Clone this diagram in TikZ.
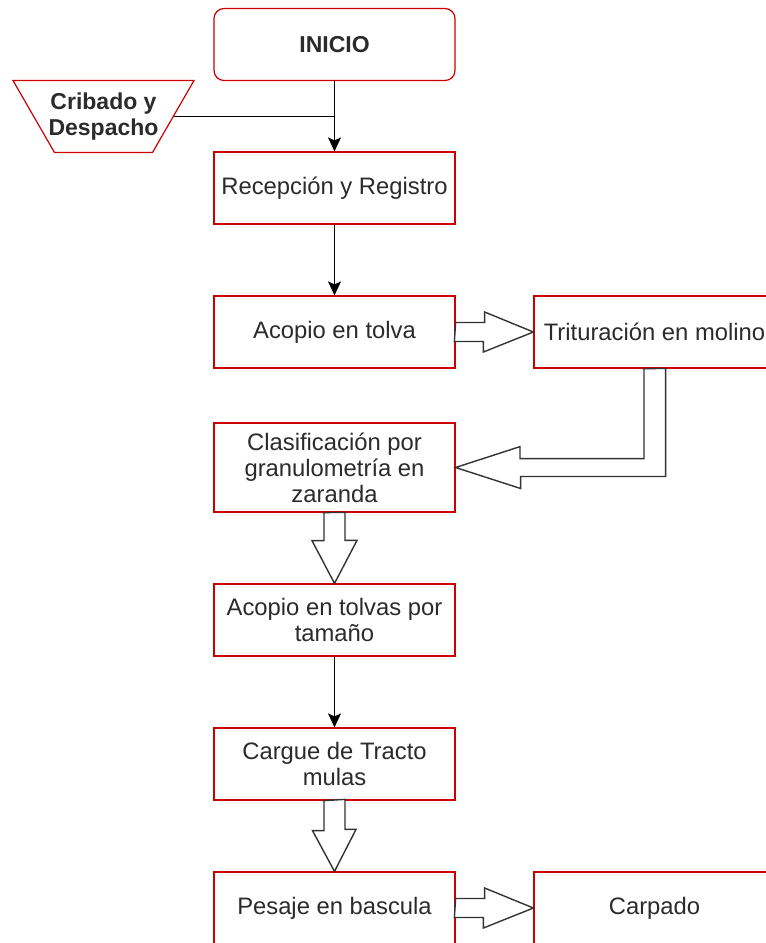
\documentclass[tikz,border=0pt]{standalone}
\usepackage{fontspec}
\setmainfont{Liberation Sans}
\usetikzlibrary{arrows.meta,calc}
\definecolor{boxred}{HTML}{CC0000}
\definecolor{ink}{HTML}{2B2B2B}
\definecolor{arrowgray}{HTML}{333333}
\begin{document}
\begin{tikzpicture}[x=1pt,y=-1pt,
  every node/.style={text=ink,font=\fontsize{23.8}{26}\selectfont,align=center,inner sep=0pt},
  procbox/.style={draw=boxred,line width=1.2pt,fill=white,minimum width=241,minimum height=72},
  startbox/.style={procbox,rounded corners=10pt,font=\bfseries\fontsize{23}{26}\selectfont},
  flow/.style={draw=black,line width=1.3pt,-{Stealth[length=14pt,width=13pt,inset=3pt]}},
  hollow/.style={draw=arrowgray,line width=1.4pt,fill=white,line join=miter}]
\useasboundingbox (0,0) rectangle (766,943);

% process boxes
\node[startbox] (inicio) at (334.5,44.5) {INICIO};
\node[font=\bfseries\fontsize{23}{26}\selectfont] (crib) at (103.5,116.5) {Cribado y\\Despacho};
\draw[boxred,line width=1.2pt] (crib.center) ++(-90.5,-36) -- ++(181,0) -- ++(-41.5,72)
  -- ++(-98,0) -- cycle;
\coordinate (cribR) at ($(crib.center)+(70,0)$);
\node[procbox] (recep) at (334.5,188) {Recepción y Registro};
\node[procbox] (acopio) at (334.5,332) {Acopio en tolva};
\node[procbox] (trit) at (654.5,332) {Trituración en molino};
\node[procbox,minimum height=89] (clasif) at (334.5,467.5) {Clasificación por\\granulometría en\\zaranda};
\node[procbox] (tolvas) at (334.5,620) {Acopio en tolvas por\\tamaño};
\node[procbox] (cargue) at (334.5,764) {Cargue de Tracto\\mulas};
\node[procbox] (pesaje) at (334.5,908) {Pesaje en bascula};
\node[procbox] (carpado) at (654.5,908) {Carpado};

% plain connectors
\draw[flow] (inicio) -- (recep);
\draw[line width=1.3pt] (cribR) -- (cribR -| inicio.south);
\draw[flow] (recep) -- (acopio);
\draw[flow] (tolvas) -- (cargue);

% block arrows
\draw[hollow] (acopio.east) ++(0,-9.5) -- ++(29,0) -- ++(0,-10.5) -- (trit.west)
  -- ++(-50,20) -- ++(0,-10.5) -- ++(-29,0) -- cycle;
\draw[hollow] (pesaje.east) ++(0,-9.5) -- ++(29,0) -- ++(0,-10.5) -- (carpado.west)
  -- ++(-50,20) -- ++(0,-10.5) -- ++(-29,0) -- cycle;
\draw[hollow] (clasif.south) ++(-10.5,0) -- ++(0,28) -- ++(-12,0) -- (tolvas.north)
  -- ++(22.5,-43) -- ++(-12,0) -- ++(0,-28) -- cycle;
\draw[hollow] (cargue.south) ++(-10.5,0) -- ++(0,30) -- ++(-11.5,0) -- (pesaje.north)
  -- ++(21.5,-42) -- ++(-11,0) -- ++(0,-30) -- cycle;
\draw[hollow] (trit.south) ++(-10.5,0) -- ++(0,90) -- ++(-124,0) -- ++(0,-12)
  -- (clasif.east) -- ++(65,21) -- ++(0,-12) -- ++(145,0) -- ++(0,-108) -- cycle;
\end{tikzpicture}
\end{document}
